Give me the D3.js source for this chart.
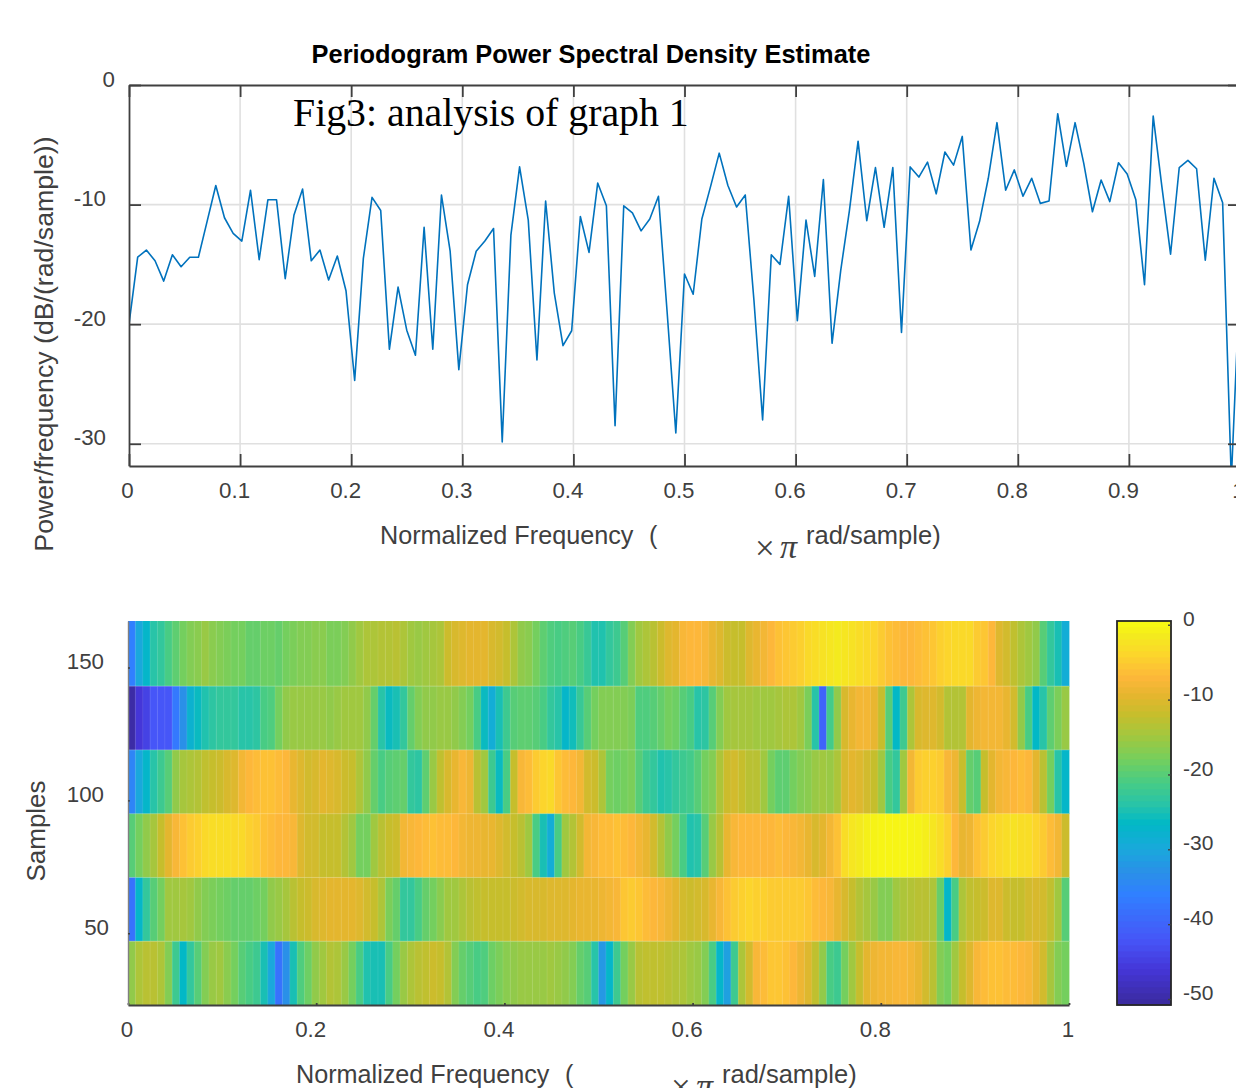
<!DOCTYPE html>
<html>
<head>
<meta charset="utf-8">
<script src="https://cdn.jsdelivr.net/npm/d3@7"></script>
<style>
body { margin: 0; background: #fff; overflow: hidden; }
text { font-family: "Liberation Sans", Arial, sans-serif; fill: #404040; }
</style>
</head>
<body>
<div id="chart"></div>
<script>
// periodogram estimate, dB/(rad/sample), 129 bins from 0 to 1
let psdValues = [
    -20, -14.4, -13.8, -14.7, -16.4, -14.2, -15.2, -14.4, -14.4, -11.4,
    -8.4, -11.1, -12.4, -13.05, -8.8, -14.6, -9.6, -9.6, -16.2, -10.9,
    -8.7, -14.7, -13.8, -16.3, -14.3, -17.2, -24.7, -14.5, -9.4, -10.5,
    -22.1, -16.9, -20.5, -22.6, -11.9, -22.1, -9.2, -13.9, -23.8, -16.7,
    -13.9, -13.05, -12, -29.85, -12.55, -6.85, -11.3, -23, -9.7, -17.4,
    -21.8, -20.55, -11, -14, -8.2, -10.1, -28.5, -10.1, -10.7, -12.2,
    -11.2, -9.3, -19, -29.1, -15.8, -17.5, -11.2, -8.5, -5.7, -8.4,
    -10.2, -9.2, -18, -28, -14.2, -15, -9.3, -19.7, -11.3, -16,
    -7.9, -21.6, -15.5, -10.5, -4.7, -11.35, -6.9, -11.9, -6.9, -20.7,
    -6.85, -7.7, -6.45, -9.1, -5.6, -6.7, -4.3, -13.8, -11.4, -7.8,
    -3.15, -8.8, -7.1, -9.3, -7.8, -9.9, -9.7, -2.4, -6.8, -3.15,
    -6.55, -10.6, -7.95, -9.75, -6.5, -7.45, -9.6, -16.7, -2.6, -8.5,
    -14.15, -6.9, -6.3, -7, -14.65, -7.8, -9.85, -33, -16
];

// spectrogram rows, top row first, 128 frequency cells each (dB)
let row1 = [
    -36, -30, -27, -24, -23, -21, -19.5, -18, -17, -16.5, -15.5, -16.5, -17, -17.5, -18, -18,
    -19, -19, -18.5, -18.5, -19, -18, -17.5, -17, -17, -16.5, -16.5, -17.5, -17.5, -17, -16, -15,
    -14, -14, -13.5, -13.5, -13, -14, -15, -15.5, -15, -14.5, -14, -11.5, -10.5, -10, -9.5, -9.5,
    -9.5, -10.5, -11, -12, -14, -16, -16.5, -18, -19.5, -20.5, -21, -20.5, -20, -21, -22.5, -24.5,
    -24.5, -23, -22, -20, -17, -15, -14, -13, -11.5, -10, -9.5, -7.5, -7, -7, -7.5, -9,
    -10, -11.5, -12, -12, -10, -9, -8, -7, -6, -5.5, -5, -4.5, -3.5, -3, -2.5, -2,
    -1.5, -2, -2.5, -3, -3.5, -4, -5, -6, -6.5, -7, -7, -6.5, -6, -5.5, -4.5, -4,
    -3.5, -3.5, -3.5, -5, -5.5, -7, -10, -11, -12.5, -14, -15, -16, -20, -23, -25, -29
];
let row2 = [
    -50, -46, -44.5, -42, -42, -42, -37, -33, -28, -26, -24.5, -23.5, -23, -23, -23, -24,
    -24, -23.5, -21, -20.5, -18, -16, -15.5, -15.5, -15.5, -15.5, -15.5, -16, -15.5, -15, -15, -15,
    -16, -19, -24, -26, -25, -23, -19, -17, -16, -16, -15.5, -15.5, -16, -17, -18, -21,
    -26, -29, -25, -22, -20, -19.5, -19.5, -20, -21, -23, -24, -27, -25.5, -22.5, -20, -18,
    -17, -17, -17, -17, -17.5, -20.5, -20.5, -20, -19, -18, -18.5, -20, -21, -24, -23.5, -20,
    -17, -15, -14.5, -14.5, -14.5, -15, -15, -15, -14.5, -14, -14, -15, -17.5, -24, -40, -21.5,
    -16, -10.5, -9, -8, -8, -9, -12, -20, -26.5, -22, -14, -10.5, -10, -10, -11, -13.5,
    -13.5, -13.5, -9.5, -8.5, -8, -8, -8, -9, -11, -16, -21, -26.5, -24, -19.5, -17.5, -15.5
];
let row3 = [
    -35, -30, -27, -24, -22, -20, -16, -14.5, -14, -13.5, -12.5, -12, -11.5, -10.5, -10, -8,
    -7, -6.5, -6, -6, -6.5, -7, -9, -10, -11, -10.5, -9.5, -10, -10.5, -11.5, -12, -14,
    -16, -19, -21, -20, -19.5, -19, -23, -23.5, -19.5, -15.5, -12.5, -10.5, -9, -7.5, -8.5, -13,
    -15, -22, -26, -21, -12, -7.5, -6.5, -5, -4, -3.5, -5.5, -6.5, -7, -8, -11, -11.5,
    -14, -18, -18.5, -18, -17.5, -20, -22, -23, -24.5, -24, -23, -22, -21.5, -20, -18, -17,
    -14, -11.5, -11, -12, -13, -13, -15, -18, -19.5, -19.5, -18, -17, -16.5, -15.5, -15, -15.5,
    -14, -10.5, -9.5, -10, -11, -12, -15, -21, -23, -15, -8, -5, -4.5, -4.5, -5, -7.5,
    -8.5, -12, -19, -20, -12, -9.5, -8, -7.5, -7, -6.5, -7, -9.5, -13, -18, -24, -27
];
let row4 = [
    -20, -18, -16, -14.5, -12, -9.5, -7.5, -6, -5, -4.5, -3.5, -3, -3, -3, -3.5, -3.5,
    -4.5, -5, -6, -6.5, -7, -7, -7.5, -10, -11, -11, -12, -12, -12, -13.5, -15, -18,
    -18, -15, -13, -12, -11.5, -8, -7.5, -7, -6.5, -6, -6.5, -6.5, -7, -8, -8.5, -8.5,
    -9, -9, -10, -11, -12, -13, -15, -21, -25, -29, -21, -15, -13.5, -11, -8, -7.5,
    -6.5, -6.5, -6, -6.5, -7, -8, -9, -11, -13.5, -16, -18, -21, -24.5, -24, -20, -15.5,
    -13, -9, -7.5, -7, -7, -7, -7, -7, -6.5, -7, -7.5, -8, -9, -10.5, -9.5, -8,
    -6, -3, -2, -1.5, -0.8, -0.4, -0.2, -0.2, -0.2, -0.2, -0.3, -0.5, -1, -2, -3, -4.5,
    -7, -9, -8.5, -6, -5, -4, -3.5, -3, -2.5, -3, -3, -4, -5, -6.5, -8, -11.5
];
let row5 = [
    -38, -27, -23, -20, -18, -15, -15, -14.5, -15, -16, -17, -17.5, -18, -18.5, -19, -19,
    -19, -18.5, -18, -16, -15.5, -14.5, -13, -12, -11.5, -10.5, -10, -9.5, -9.5, -9.5, -9.5, -10,
    -11, -12, -14, -17.5, -19, -23, -23, -21, -19, -18, -16.5, -15, -15, -14, -13, -12.5,
    -12, -12, -12, -12, -11.5, -11, -10.5, -10.5, -10.5, -10, -10, -10, -9.5, -9, -9, -9,
    -8.5, -8, -7.5, -5.5, -5, -5.5, -6.5, -7, -7.5, -8.5, -9.5, -11, -11.5, -11, -10.5, -9,
    -7.5, -6, -5, -4.5, -4, -4.5, -4.5, -5, -5, -5, -5, -5, -5.5, -6.5, -7, -7.5,
    -9, -10.5, -12, -13.5, -14.5, -15.5, -17, -17, -15, -14, -13.5, -13, -13, -14, -19, -27,
    -21, -14, -12.5, -12, -11.5, -10, -10, -11.5, -12, -12, -11, -10.5, -11, -12.5, -15, -20
];
let row6 = [
    -16, -14, -13, -13, -14, -17, -22, -26.5, -23, -20, -17, -15.5, -15, -16.5, -18, -20,
    -21, -22, -25, -30, -38, -33, -25, -20.5, -18.5, -16, -15, -13.5, -14, -15.5, -18, -21,
    -24.5, -25, -25, -21, -18, -15.5, -14, -13, -12.5, -11.5, -12, -13.5, -17, -19, -20, -21,
    -20.5, -18.5, -17.5, -16.5, -16, -15.5, -15.5, -15.5, -15.5, -15, -15.5, -16, -17, -19, -20, -24,
    -32, -27, -22, -18, -15.5, -13, -12.5, -12.5, -12.5, -13, -13.5, -14, -15, -15.5, -17, -21,
    -27, -31, -22, -14, -11, -7.5, -6.5, -5.5, -5.5, -6, -7, -8.5, -10, -12.5, -16, -21,
    -22, -18, -15, -12, -9.5, -8.5, -8, -8, -7.5, -7.5, -8, -9, -11, -13, -17, -18,
    -15, -12, -10, -7.5, -6.5, -6, -6, -6.5, -6.5, -7, -7.5, -9, -11, -14.5, -17, -18
];
let spectrogramRows = [row1, row2, row3, row4, row5, row6];

// sample number at the edges of the rows, bottom up
let sampleEdges = [23, 47, 71, 95, 119, 143, 167.5];

let psdXTicks = [0, 0.1, 0.2, 0.3, 0.4, 0.5, 0.6, 0.7, 0.8, 0.9, 1];
let psdYTicks = [0, -10, -20, -30];
let heatXTicks = [0, 0.2, 0.4, 0.6, 0.8, 1];
let heatYTicks = [50, 100, 150];
let barTicks = [0, -10, -20, -30, -40, -50];

// colormap
let cmapLevels = [-50.8, -46, -42, -36, -33, -30, -26.5, -24, -21, -18, -15, -12, -9.5, -7, -4, -1.5, 0.5];
let cmapColors = ["#3a2a9c", "#4536d8", "#4656f8", "#3080ff", "#2a90e8", "#1aa8dc", "#02b8c6", "#28c4a8",
    "#48cc84", "#74cf5e", "#a0c840", "#c6be2c", "#e4b62e", "#fdb73a", "#fcd52c", "#f4ea1e", "#f8fb10"];

let axisColor = "#404040";
let tickFont = 22.3;

let svg = d3.select("#chart").append("svg")
    .attr("width", 1236)
    .attr("height", 1088);

let color = d3.scaleLinear().domain(cmapLevels).range(cmapColors);

function styleAxis(g, width) {
    g.select(".domain").attr("stroke", axisColor).attr("stroke-width", width);
    g.selectAll(".tick line").attr("stroke", axisColor).attr("stroke-width", width);
    g.selectAll("text").attr("font-size", tickFont).attr("fill", axisColor);
}

// ---- periodogram ----
let psd = {left: 129, right: 1240, top: 85, bottom: 466};

let x = d3.scaleLinear().domain([0, 1]).range([psd.left, psd.right]);
let y = d3.scaleLinear().domain([-31.86, 0]).range([psd.bottom, psd.top]);

svg.append("defs").append("clipPath").attr("id", "psdClip")
    .append("rect")
    .attr("x", psd.left)
    .attr("y", psd.top)
    .attr("width", psd.right - psd.left)
    .attr("height", psd.bottom - psd.top);

svg.append("g").selectAll("line").data(psdXTicks.slice(1, -1)).join("line")
    .attr("x1", d => x(d)).attr("x2", d => x(d))
    .attr("y1", psd.top).attr("y2", psd.bottom)
    .attr("stroke", "#e0e0e0").attr("stroke-width", 1.6);

svg.append("g").selectAll("line").data(psdYTicks.slice(1)).join("line")
    .attr("x1", psd.left).attr("x2", psd.right)
    .attr("y1", d => y(d)).attr("y2", d => y(d))
    .attr("stroke", "#e0e0e0").attr("stroke-width", 1.6);

let line = d3.line()
    .x((d, i) => x(i / (psdValues.length - 1)))
    .y(d => y(d));

svg.append("path")
    .datum(psdValues)
    .attr("clip-path", "url(#psdClip)")
    .attr("fill", "none")
    .attr("stroke", "#0072bd")
    .attr("stroke-width", 1.6)
    .attr("stroke-linejoin", "round")
    .attr("d", line);

// tick marks sit inside the box on all four sides
let psdBottom = svg.append("g")
    .attr("transform", "translate(0," + psd.bottom + ")")
    .call(d3.axisBottom(x).tickValues(psdXTicks).tickSize(-12).tickSizeOuter(0).tickFormat(d3.format("~g")));
styleAxis(psdBottom, 1.8);
psdBottom.selectAll("text")
    .attr("y", 32)
    .attr("dy", 0)
    .attr("dx", d => Number.isInteger(d) ? -2 : -6);

let psdTop = svg.append("g")
    .attr("transform", "translate(0," + psd.top + ")")
    .call(d3.axisTop(x).tickValues(psdXTicks).tickSize(-12).tickSizeOuter(0).tickFormat(""));
styleAxis(psdTop, 1.8);

let psdLeft = svg.append("g")
    .attr("transform", "translate(" + psd.left + ",0)")
    .call(d3.axisLeft(y).tickValues(psdYTicks).tickSize(-12).tickSizeOuter(0));
styleAxis(psdLeft, 1.8);
psdLeft.selectAll("text")
    .text(d => String(d))
    .attr("x", d => -14 - 4.5 * (String(d).length - 1))
    .attr("dy", 0)
    .attr("y", 1);

let psdRight = svg.append("g")
    .attr("transform", "translate(" + psd.right + ",0)")
    .call(d3.axisRight(y).tickValues(psdYTicks).tickSize(-12).tickSizeOuter(0).tickFormat(""));
styleAxis(psdRight, 1.8);

svg.append("text")
    .attr("x", 591).attr("y", 63)
    .attr("text-anchor", "middle")
    .attr("font-size", 25.4)
    .attr("font-weight", "bold")
    .style("fill", "#000")
    .text("Periodogram Power Spectral Density Estimate");

svg.append("text")
    .attr("x", 293).attr("y", 126)
    .attr("font-size", 39.8)
    .style("font-family", "'Liberation Serif', serif")
    .style("fill", "#000")
    .text("Fig3: analysis of graph 1");

function freqLabel(leftX, textY) {
    svg.append("text")
        .attr("x", leftX).attr("y", textY)
        .attr("font-size", 25.2)
        .text("Normalized Frequency");
    svg.append("text")
        .attr("x", leftX + 269).attr("y", textY)
        .attr("font-size", 25.2)
        .text("(");
    svg.append("text")
        .attr("x", leftX + 375).attr("y", textY + 16)
        .attr("font-size", 35)
        .style("font-family", "'Liberation Serif', serif")
        .text("\u00d7");
    svg.append("text")
        .attr("x", leftX + 400).attr("y", textY + 14)
        .attr("font-size", 34)
        .attr("font-style", "italic")
        .style("font-family", "'Liberation Serif', serif")
        .text("\u03c0");
    svg.append("text")
        .attr("x", leftX + 426).attr("y", textY)
        .attr("font-size", 25.5)
        .text("rad/sample)");
}
freqLabel(380, 544);
freqLabel(296, 1083);

svg.append("text")
    .attr("transform", "translate(53,344) rotate(-90)")
    .attr("text-anchor", "middle")
    .attr("font-size", 26.7)
    .text("Power/frequency (dB/(rad/sample))");

// ---- spectrogram ----
let heat = {left: 128, right: 1069, top: 621, bottom: 1005};

let heatX = d3.scaleLinear().domain([0, 1]).range([heat.left, heat.right]);
let heatY = d3.scaleLinear().domain([sampleEdges[0], sampleEdges[6]]).range([heat.bottom, heat.top]);

let cells = [];
spectrogramRows.forEach((row, r) => {
    row.forEach((v, c) => {
        cells.push({row: r, col: c, value: v});
    });
});

let bottomEdges = sampleEdges.slice().reverse();

svg.append("g").selectAll("rect").data(cells).join("rect")
    .attr("x", d => heatX(d.col / 128))
    .attr("width", 1 / 128 * (heat.right - heat.left) + 0.4)
    .attr("y", d => heatY(bottomEdges[d.row]))
    .attr("height", d => heatY(bottomEdges[d.row + 1]) - heatY(bottomEdges[d.row]) + 0.4)
    .attr("fill", d => color(d.value));

// faint seams between the surface patches
svg.append("g").selectAll("line").data(d3.range(1, 128)).join("line")
    .attr("x1", d => heatX(d / 128)).attr("x2", d => heatX(d / 128))
    .attr("y1", heat.top).attr("y2", heat.bottom)
    .attr("stroke", "#fff").attr("stroke-opacity", 0.1).attr("stroke-width", 1);

svg.append("g").selectAll("line").data(sampleEdges.slice(1, -1)).join("line")
    .attr("x1", heat.left).attr("x2", heat.right)
    .attr("y1", d => heatY(d)).attr("y2", d => heatY(d))
    .attr("stroke", "#fff").attr("stroke-opacity", 0.25).attr("stroke-width", 1);

let heatBottom = svg.append("g")
    .attr("transform", "translate(0," + heat.bottom + ")")
    .call(d3.axisBottom(heatX).tickValues(heatXTicks).tickSize(-2).tickSizeOuter(0).tickFormat(d3.format("~g")));
styleAxis(heatBottom, 1.8);
heatBottom.selectAll("text")
    .attr("y", 32)
    .attr("dy", 0)
    .attr("dx", d => Number.isInteger(d) ? -1.5 : -6);

let heatLeft = svg.append("g")
    .attr("transform", "translate(" + heat.left + ",0)")
    .call(d3.axisLeft(heatY).tickValues(heatYTicks).tickSize(-2).tickSizeOuter(0));
styleAxis(heatLeft, 1.4);
heatLeft.select(".domain").attr("stroke", "#808080");
heatLeft.selectAll("text")
    .attr("x", d => -14 - 5 * (String(d).length - 1))
    .attr("dy", 0)
    .attr("y", 1);

svg.append("text")
    .attr("transform", "translate(45,831) rotate(-90)")
    .attr("text-anchor", "middle")
    .attr("font-size", 26)
    .text("Samples");

// ---- colorbar ----
let bar = {left: 1117, right: 1171, top: 621, bottom: 1005};

let barY = d3.scaleLinear().domain([-50.8, 0.5]).range([bar.bottom, bar.top]);
let levels = d3.range(64);

svg.append("g").selectAll("rect").data(levels).join("rect")
    .attr("x", bar.left)
    .attr("width", bar.right - bar.left)
    .attr("y", d => barY(-50.8 + (d + 1) * 51.3 / 64))
    .attr("height", (bar.bottom - bar.top) / 64 + 0.4)
    .attr("fill", d => color(-50.8 + (d + 0.5) * 51.3 / 64));

svg.append("rect")
    .attr("x", bar.left)
    .attr("y", bar.top)
    .attr("width", bar.right - bar.left)
    .attr("height", bar.bottom - bar.top)
    .attr("fill", "none")
    .attr("stroke", "#262626")
    .attr("stroke-width", 1.8);

let barAxis = svg.append("g")
    .attr("transform", "translate(" + bar.right + ",0)")
    .call(d3.axisRight(barY).tickValues(barTicks).tickSize(-3).tickSizeOuter(0));
styleAxis(barAxis, 1.4);
barAxis.select(".domain").attr("stroke", "none");
barAxis.selectAll("text")
    .text(d => String(d))
    .attr("font-size", 21)
    .attr("x", 12)
    .attr("dy", 0)
    .attr("y", d => 1 + d * 0.02);
</script>
</body>
</html>
